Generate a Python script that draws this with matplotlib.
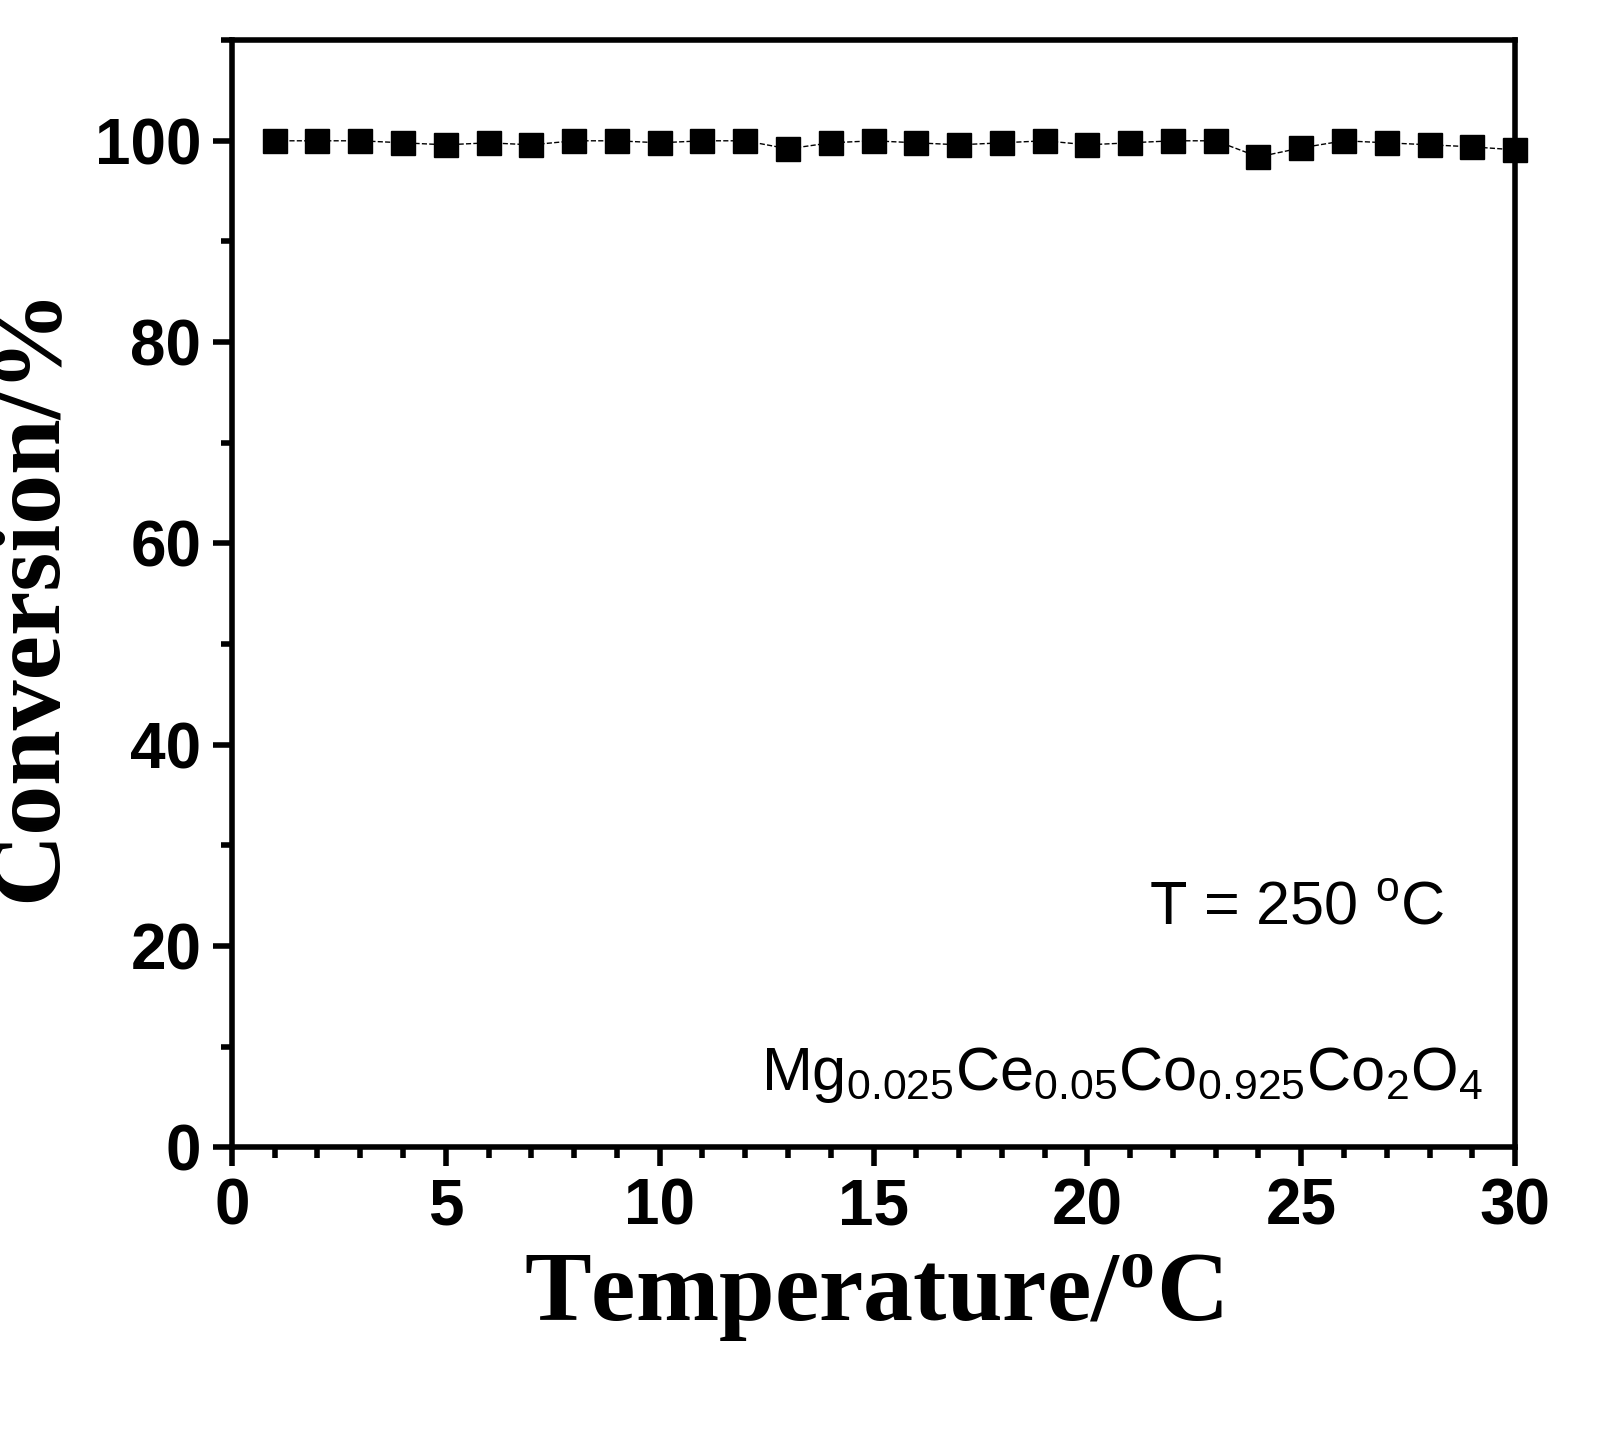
import matplotlib
matplotlib.use("Agg")
import matplotlib.pyplot as plt
from matplotlib.ticker import MultipleLocator

plt.rcParams["mathtext.fontset"] = "custom"
plt.rcParams["mathtext.rm"] = "Liberation Sans"
plt.rcParams["mathtext.bf"] = "Liberation Serif:bold"

time_h = list(range(1, 31))
conversion = [100, 100, 100, 99.8, 99.6, 99.8, 99.6, 100, 100, 99.8,
              100, 100, 99.2, 99.8, 100, 99.8, 99.6, 99.8, 100, 99.6,
              99.8, 100, 100, 98.4, 99.3, 100, 99.8, 99.6, 99.4, 99.1]

fig = plt.figure(figsize=(16.05, 14.34), dpi=100)
ax = fig.add_axes([0.1445, 0.2, 0.7995, 0.772])
ax.plot(time_h, conversion, color="black", ls="--", lw=1, marker="s", ms=17,
        clip_on=False, zorder=3)

ax.set_xlim(0, 30)
ax.set_ylim(0, 110)
ax.xaxis.set_major_locator(MultipleLocator(5))
ax.xaxis.set_minor_locator(MultipleLocator(1))
ax.yaxis.set_major_locator(MultipleLocator(20))
ax.yaxis.set_minor_locator(MultipleLocator(10))
for s in ax.spines.values():
    s.set_linewidth(4)
ax.tick_params(which="major", length=14, width=4, labelsize=46, pad=8)
ax.tick_params(which="minor", length=8, width=4)
for lab in ax.get_xticklabels() + ax.get_yticklabels():
    lab.set_fontfamily("Liberation Sans")
    lab.set_fontweight("bold")

ax.set_xlabel("Temperature/$\\mathbf{^{o}}$C", fontfamily="Liberation Serif",
              fontweight="bold", fontsize=72, labelpad=10)
ax.set_ylabel("Conversion/%", fontfamily="Liberation Serif",
              fontweight="bold", fontsize=72, labelpad=14)

ax.text(0.945, 0.215, "T = 250 $^{\\rm o}$C", transform=ax.transAxes,
        ha="right", va="center", fontsize=44, fontfamily="Liberation Sans")
ax.text(0.975, 0.065, "Mg$_{0.025}$Ce$_{0.05}$Co$_{0.925}$Co$_{2}$O$_{4}$",
        transform=ax.transAxes, ha="right", va="center", fontsize=44,
        fontfamily="Liberation Sans")

fig.savefig("out.png", dpi=100)
